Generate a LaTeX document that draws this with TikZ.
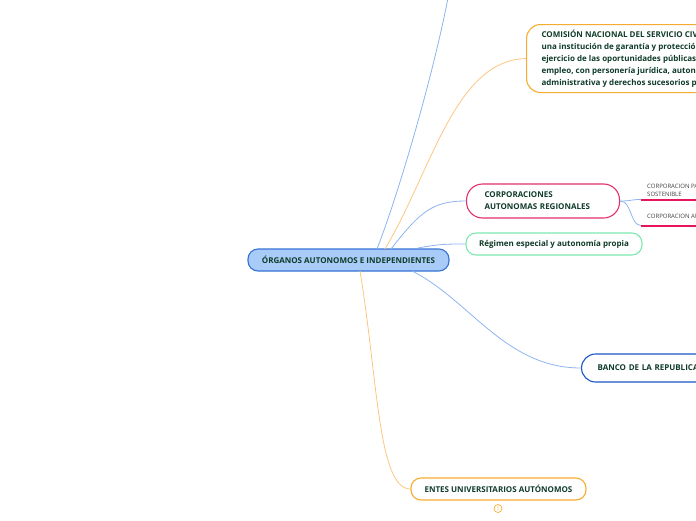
\documentclass[tikz,border=0pt]{standalone}
\usepackage{fontspec}
\setmainfont{Open Sans}
\usetikzlibrary{positioning}
\definecolor{ink}{HTML}{0F3B29}
\definecolor{rootfill}{HTML}{A9CBF7}
\definecolor{rootline}{HTML}{3672D6}
\definecolor{orangeline}{HTML}{F6AD2F}
\definecolor{pinkline}{HTML}{E3306A}
\definecolor{greenline}{HTML}{7DE8B0}
\definecolor{bankline}{HTML}{1B56C9}
\definecolor{blueconn}{HTML}{8DB4F0}
\definecolor{orangeconn}{HTML}{FDC680}
\definecolor{leafred}{HTML}{E8155A}

\begin{document}
\begin{tikzpicture}[x=1pt, y=-1pt, font=\bfseries\fontsize{8}{12}\selectfont, topic/.style={draw, line width=1.1pt, rounded corners=10pt, fill=white, text=ink, align=center, inner sep=2pt}, leaf/.style={font=\fontsize{6}{8}\selectfont, text=black!75, align=left, inner xsep=6pt, anchor=south west}, conn/.style={line width=0.8pt}, leafline/.style={draw=leafred, line width=2pt}]
\useasboundingbox (0,0) rectangle (696,520);
\clip (0,0) rectangle (696,520);
\coordinate (top) at (448,-2);
\node[topic, fill=rootfill, draw=rootline, minimum width=201pt, minimum height=22pt] (root) at (348.5,260) {ÓRGANOS AUTONOMOS E INDEPENDIENTES};
\node[topic, draw=orangeline, anchor=north west, align=left, minimum height=68pt, inner xsep=15pt, rounded corners=14pt] (cnsc) at (526,24) {COMISIÓN NACIONAL DEL SERVICIO CIVIL\\una institución de garantía y protección del\\ejercicio de las oportunidades públicas en el\\empleo, con personería jurídica, autonomía\\administrativa y derechos sucesorios propios};
\node[topic, draw=pinkline, anchor=west, text width=117pt, inner xsep=18pt, minimum height=34pt, align=left, rounded corners=16pt] (car) at (466,201) {CORPORACIONES\\AUTONOMAS REGIONALES};
\node[topic, draw=greenline, minimum width=176pt, minimum height=22pt] (regimen) at (554,244) {Régimen especial y autonomía propia};
\node[topic, draw=bankline, anchor=west, text width=150pt, minimum height=28pt, inner xsep=16pt, align=left, rounded corners=14pt] (banco) at (581,368) {BANCO DE LA REPUBLICA};
\node[topic, draw=orangeline, minimum width=175pt, minimum height=22pt] (entes) at (498.5,489) {ENTES UNIVERSITARIOS AUTÓNOMOS};
\node[circle, draw=orangeline, line width=0.7pt, inner sep=0pt, minimum size=8pt, text=orangeline, font=\fontsize{5}{5}\selectfont] (fold) at (498,508.5) {1};
% sub topics of the corporaciones
\node[leaf, inner ysep=3pt] (cpa) at (641,199.5) {CORPORACION PARA EL DESARROLLO\\SOSTENIBLE};
\node[leaf, inner ysep=7pt] (cad) at (641,225.5) {CORPORACION AUTONOMA REGIONAL};
\path[leafline] (cpa.south west) -- ++(90,0);
\path[leafline] (cad.south west) -- ++(90,0);
% connectors
\draw[conn, blueconn] (377,249) .. controls (398,195) and (432,80) .. (top);
\draw[conn, orangeconn] (385,249) .. controls (432,170) and (455,60) .. (cnsc.west);
\draw[conn, blueconn] (391,249) .. controls (420,212) and (432,201) .. (car.west);
\draw[conn, blueconn] (418,248) .. controls (440,244) and (445,244) .. (regimen.west);
\draw[conn, blueconn] (412,271) .. controls (470,300) and (505,368) .. (banco.west);
\draw[conn, orangeconn] (360,271) .. controls (378,380) and (378,489) .. (entes.west);
\draw[conn, blueconn] (car.east) .. controls (632,201) and (630,199.5) .. (cpa.south west);
\draw[conn, blueconn] (car.east) .. controls (632,201) and (630,225.5) .. (cad.south west);
\end{tikzpicture}
\end{document}
